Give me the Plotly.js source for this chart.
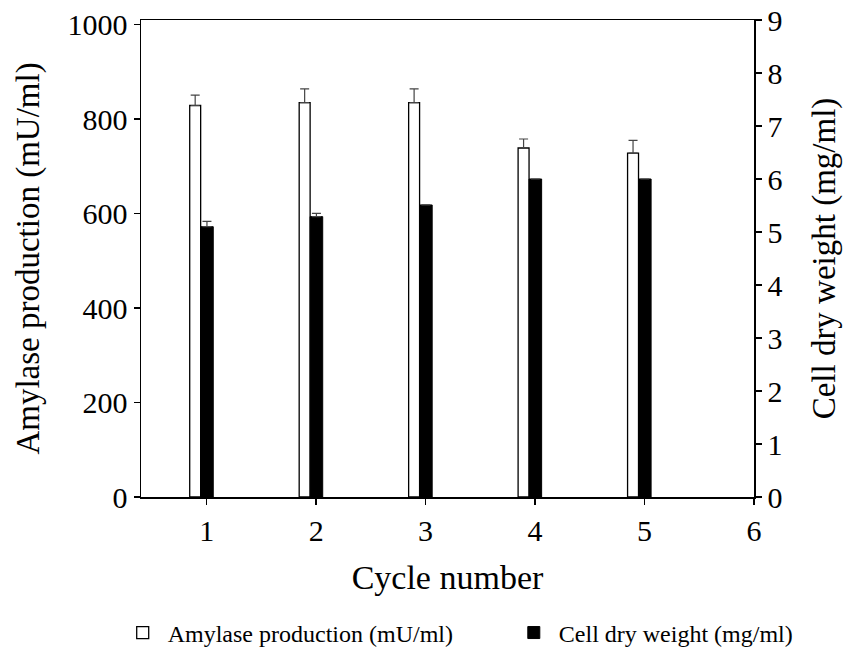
<!DOCTYPE html>
<html>
<head>
<meta charset="utf-8">
<script src="https://cdn.plot.ly/plotly-3.0.1.min.js"></script>
<style>html,body{margin:0;padding:0;background:#fff;}#chart{width:850px;height:648px;}</style>
</head>
<body>
<div id="chart"></div>
<script>
// Data
const cycles = [1, 2, 3, 4, 5];
const amylase = [829, 835, 835, 739, 728];          // mU/ml
const amylaseErr = [22, 29, 29, 19, 27];
const cellDryWeight = [5.10, 5.29, 5.51, 6.00, 6.00]; // mg/ml
const cellDryWeightErr = [0.10, 0.06, 0, 0, 0];
const xTicks = [1, 2, 3, 4, 5, 6];
const yTicks = [0, 200, 400, 600, 800, 1000];
const y2Ticks = [0, 1, 2, 3, 4, 5, 6, 7, 8, 9];

const FONT = 'Liberation Serif, Times New Roman, serif';
const zeros = cycles.map(() => 0);

const traces = [
  {
    type: 'bar', name: 'Amylase production (mU/ml)', legend: 'legend',
    x: cycles, y: amylase, yaxis: 'y',
    offset: -0.155, width: 0.1,
    marker: {color: '#ffffff', line: {color: '#000000', width: 1.3}},
    error_y: {type: 'data', symmetric: false, array: amylaseErr, arrayminus: zeros,
              color: '#444444', thickness: 1.2, width: 4.5}
  },
  {
    type: 'bar', name: 'Cell dry weight (mg/ml)', legend: 'legend2',
    x: cycles, y: cellDryWeight, yaxis: 'y2',
    offset: -0.055, width: 0.115,
    marker: {color: '#000000', line: {color: '#000000', width: 1}},
    error_y: {type: 'data', symmetric: false, array: cellDryWeightErr, arrayminus: zeros,
              color: '#444444', thickness: 1.2, width: 4.5}
  }
];

const axisCommon = {
  showline: true, linecolor: '#000', linewidth: 1.5,
  ticks: 'outside', ticklen: 6, tickwidth: 1.5, tickcolor: '#000',
  showgrid: false, zeroline: false, automargin: false,
  tickfont: {family: FONT, size: 30, color: '#000'}
};

const legendCommon = {
  orientation: 'h', xanchor: 'left', y: -0.285, yanchor: 'middle',
  font: {family: FONT, size: 24, color: '#000'},
  itemwidth: 40, bgcolor: 'rgba(0,0,0,0)'
};

const layout = {
  width: 850, height: 648,
  margin: {l: 141, r: 96, t: 20, b: 151, autoexpand: false},
  paper_bgcolor: '#fff', plot_bgcolor: '#fff',
  barmode: 'overlay',
  showlegend: true,
  legend: Object.assign({}, legendCommon, {x: -0.038}),
  legend2: Object.assign({}, legendCommon, {x: 0.600}),
  xaxis: Object.assign({}, axisCommon, {
    range: [0.4, 6], tickvals: xTicks, ticktext: xTicks.map(String), mirror: true,
    title: {text: 'Cycle number', font: {family: FONT, size: 34, color: '#000'}, standoff: 19}
  }),
  yaxis: Object.assign({}, axisCommon, {
    range: [0, 1010], tickvals: yTicks, ticktext: yTicks.map(String),
    title: {text: 'Amylase production (mU/ml)', font: {family: FONT, size: 33, color: '#000'}, standoff: 18}
  }),
  yaxis2: Object.assign({}, axisCommon, {
    overlaying: 'y', side: 'right', range: [0, 9],
    tickvals: y2Ticks, ticktext: y2Ticks.map(String),
    title: {text: 'Cell dry weight (mg/ml)', font: {family: FONT, size: 33, color: '#000'}, standoff: 30}
  })
};

Plotly.newPlot('chart', traces, layout, {displayModeBar: false, staticPlot: true});
</script>
</body>
</html>
